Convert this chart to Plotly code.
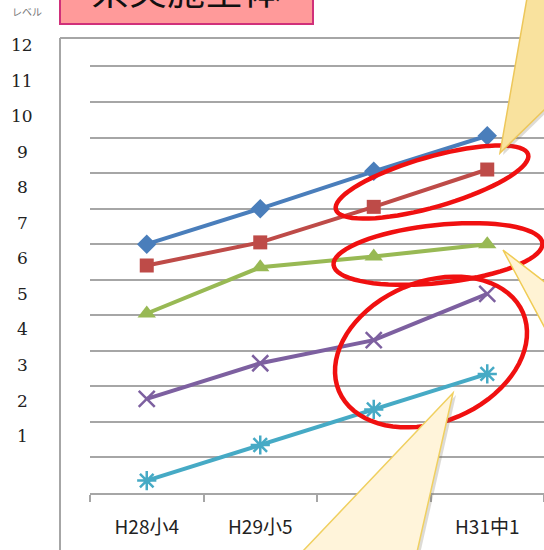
import numpy as np
import plotly.graph_objects as go

# data
categories = ["H28小4", "H29小5", "H30小6", "H31中1"]
levels = list(range(1, 13))
series_a = [7.0, 8.0, 9.05, 10.05]
series_b = [6.4, 7.05, 8.05, 9.1]
series_c = [5.05, 6.35, 6.65, 7.0]
series_d = [2.65, 3.65, 4.3, 5.6]
series_e = [0.35, 1.35, 2.35, 3.35]

W, H = 544, 550
L, R, T, B = 90, 0, 38, 57
Y_MAX = 12.8
GRID = "#A6A6A6"


def xp(px):
    # figure pixel -> paper x
    return (px - L) / (W - L - R)


def yp(py):
    # figure pixel -> paper y
    return (H - B - py) / (H - T - B)


def poly_path(pts):
    return "M " + " L ".join(f"{xp(x):.4f},{yp(y):.4f}" for x, y in pts) + " Z"


def ellipse_path(cx, cy, a, b, deg, n=72):
    t = np.linspace(0, 2 * np.pi, n, endpoint=False)
    th = np.radians(deg)
    xs = cx + a * np.cos(t) * np.cos(th) + b * np.sin(t) * np.sin(th)
    ys = cy - a * np.cos(t) * np.sin(th) + b * np.sin(t) * np.cos(th)
    return poly_path(list(zip(xs, ys)))


fig = go.Figure()

styles = [
    (series_a, "#4A7EBB", dict(symbol="diamond", size=15)),
    (series_b, "#BE4B48", dict(symbol="square", size=14)),
    (series_c, "#98B954", dict(symbol="triangle-up", size=16)),
    (series_d, "#7D60A0", dict(symbol="x-thin-open", size=16, line=dict(width=2.5))),
    (series_e, "#46AAC5", dict(symbol="asterisk-open", size=16, line=dict(width=2.5))),
]
for vals, col, mk in styles:
    mk = dict(mk, color=col)
    if "line" in mk:
        mk["line"] = dict(mk["line"], color=col)
    fig.add_trace(go.Scatter(
        x=categories, y=vals, mode="lines+markers",
        line=dict(color=col, width=4), marker=mk,
        showlegend=False, hoverinfo="skip",
    ))

shapes = [
    # chart-area frame
    dict(type="line", xref="paper", yref="paper", x0=xp(60), x1=xp(544), y0=yp(38), y1=yp(38),
         line=dict(color=GRID, width=2)),
    dict(type="line", xref="paper", yref="paper", x0=xp(60), x1=xp(60), y0=yp(38), y1=yp(552),
         line=dict(color=GRID, width=2)),
    # title box
    dict(type="rect", xref="paper", yref="paper", x0=xp(60), x1=xp(313), y0=yp(24), y1=yp(-5),
         fillcolor="#FF9A9A", line=dict(color="#D0307A", width=2)),
]

# red emphasis rings
for cx, cy, a, b, deg in [(432, 182, 100, 25, 16), (438, 254, 105, 29, 6), (431, 352, 100, 70, 23)]:
    shapes.append(dict(type="path", xref="paper", yref="paper", path=ellipse_path(cx, cy, a, b, deg),
                       line=dict(color="#F01010", width=4.5), fillcolor="rgba(0,0,0,0)", layer="above"))

# callout tails
callouts = [
    ([(500, 153), (527, -2), (546, -2), (546, 108)], "#F9E29E", "#EDC75A"),
    ([(503, 250), (546, 283), (546, 330)], "#FFF3D4", "#F0CC55"),
    ([(453, 393), (302, 552), (417, 552)], "#FFF4DA", "#F0D060"),
]
for pts, fill, edge in callouts:
    shade = [(x + 3, y + 2) for x, y in pts]
    shapes.append(dict(type="path", xref="paper", yref="paper", path=poly_path(shade),
                       fillcolor="rgba(120,110,90,0.25)", line=dict(width=0), layer="above"))
    shapes.append(dict(type="path", xref="paper", yref="paper", path=poly_path(pts),
                       fillcolor=fill, line=dict(color=edge, width=1.5), layer="above"))

annotations = [
    dict(text="県実施全体", xref="paper", yref="paper", x=xp(186), y=yp(-12), xanchor="center",
         yanchor="middle", showarrow=False, font=dict(size=38, color="#111", family="Noto Sans CJK JP")),
    dict(text="レベル", xref="paper", yref="paper", x=xp(27), y=yp(12), xanchor="center",
         yanchor="middle", showarrow=False, font=dict(size=10, color="#777", family="Noto Sans CJK JP")),
]
for n in levels:
    annotations.append(dict(text=str(n), xref="paper", yref="y", x=xp(22), y=n + 0.6,
                            xanchor="center", yanchor="middle", showarrow=False,
                            font=dict(size=17, color="#222", family="DejaVu Serif")))

fig.update_layout(
    width=W, height=H, autosize=False,
    margin=dict(l=L, r=R, t=T, b=B),
    paper_bgcolor="white", plot_bgcolor="white",
    shapes=shapes, annotations=annotations,
    xaxis=dict(
        type="category", range=[-0.5, 3.5], showgrid=False, zeroline=False,
        showline=True, linecolor=GRID, linewidth=2,
        ticks="outside", tickson="boundaries", ticklen=7, tickwidth=2, tickcolor=GRID,
        ticklabelstandoff=16,
        tickfont=dict(size=19, color="#222", family="Noto Sans CJK JP"),
    ),
    yaxis=dict(
        range=[0, Y_MAX], dtick=1, showgrid=True, gridcolor=GRID, gridwidth=2,
        zeroline=False, showticklabels=False, ticks="",
    ),
)

# drop the page's default body margin so the figure sits at the window corner
fig.write_html("out.html", config={"displayModeBar": False},
               post_script="document.body.style.margin='0';")
